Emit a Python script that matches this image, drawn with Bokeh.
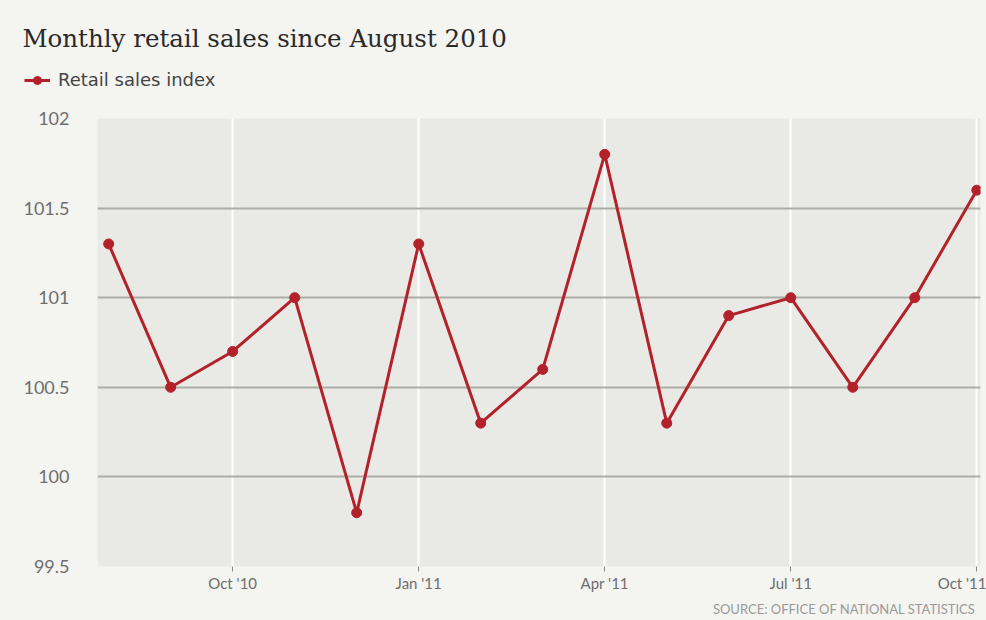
from bokeh.plotting import figure
from bokeh.layouts import column
from bokeh.models import Legend, LegendItem, FixedTicker, Range1d, Title, Label
from bokeh.embed import file_html
from bokeh.resources import INLINE

months = ["Aug '10", "Sep '10", "Oct '10", "Nov '10", "Dec '10", "Jan '11", "Feb '11",
          "Mar '11", "Apr '11", "May '11", "Jun '11", "Jul '11", "Aug '11", "Sep '11", "Oct '11"]
values = [101.3, 100.5, 100.7, 101.0, 99.8, 101.3, 100.3, 100.6, 101.8, 100.3, 100.9,
          101.0, 100.5, 101.0, 101.6]
tick_labels = ["Oct '10", "Jan '11", "Apr '11", "Jul '11", "Oct '11"]
y_ticks = [99.5, 100, 100.5, 101, 101.5, 102]
y_labels = ["99.5", "100", "100.5", "101", "101.5", "102"]

x = list(range(len(months)))
tick_pos = [months.index(t) for t in tick_labels]

RED = "#b3212b"
GRAY_TXT = "#6e6e6e"
BG = "#f4f4f1"
HEADER_H = 98

# ---------- header (title + legend) ----------
h = figure(width=986, height=HEADER_H, x_range=Range1d(0, 1), y_range=Range1d(0, 1),
           x_axis_type=None, y_axis_type=None, output_backend="svg", toolbar_location=None,
           min_border=0)
h.background_fill_color = BG
h.border_fill_color = BG
h.outline_line_color = None
h.xgrid.visible = False
h.ygrid.visible = False
# legend renderers: the same series (falls outside this header's ranges)
hl = h.line(x, values, line_color=RED, line_width=3)
hd = h.scatter(x, values, size=10, fill_color=RED, line_color=RED)

legend = Legend(items=[LegendItem(label="Retail sales index", renderers=[hl, hd])],
                location=(24, HEADER_H - 80 - 10))
legend.background_fill_alpha = 0
legend.border_line_alpha = 0
legend.label_text_font = "DejaVu Sans"
legend.label_text_font_size = "18px"
legend.label_text_color = "#444444"
legend.glyph_width = 26
legend.label_standoff = 8
legend.padding = 0
legend.margin = 0
h.add_layout(legend, "center")

title = Label(x=22, y=HEADER_H - 38, x_units="screen", y_units="screen",
              text="Monthly retail sales since August 2010",
              text_font="DejaVu Serif", text_font_size="24.5px", text_color="#2a2a2a",
              text_baseline="middle")
h.add_layout(title)

# ---------- main chart ----------
p = figure(width=986, height=620 - HEADER_H, x_range=Range1d(-0.18, 14.06), y_range=Range1d(99.5, 102),
           output_backend="svg", toolbar_location=None,
           min_border_left=97, min_border_right=6, min_border_top=118 - HEADER_H, min_border_bottom=52)
p.background_fill_color = "#e9e9e5"
p.border_fill_color = BG
p.outline_line_color = None

p.xaxis.ticker = FixedTicker(ticks=tick_pos)
p.xaxis.major_label_overrides = {pos: lab for pos, lab in zip(tick_pos, tick_labels)}
p.xaxis.axis_line_color = None
p.xaxis.major_tick_line_color = "#8a8a8a"
p.xaxis.major_tick_in = 0
p.xaxis.major_tick_out = 5
p.xaxis.minor_tick_line_color = None
p.xaxis.major_label_standoff = 2
p.xaxis.major_label_text_font = "Lato"
p.xaxis.major_label_text_font_size = "15px"
p.xaxis.major_label_text_color = GRAY_TXT

p.yaxis.ticker = FixedTicker(ticks=y_ticks)
p.yaxis.major_label_overrides = {t: l for t, l in zip(y_ticks, y_labels)}
p.yaxis.axis_line_color = None
p.yaxis.major_tick_line_color = None
p.yaxis.minor_tick_line_color = None
p.yaxis.major_label_standoff = 22
p.yaxis.major_label_text_font = "Lato"
p.yaxis.major_label_text_font_size = "18px"
p.yaxis.major_label_text_color = GRAY_TXT
p.yaxis.major_label_text_baseline = "alphabetic"

p.xgrid.grid_line_color = "#ffffff"
p.xgrid.grid_line_width = 2
p.ygrid.grid_line_color = "#adada8"
p.ygrid.grid_line_width = 2

p.line(x, values, line_color=RED, line_width=3)
p.scatter(x, values, size=10, fill_color=RED, line_color=RED)

source = Title(text="SOURCE: OFFICE OF NATIONAL STATISTICS", align="right", offset=5,
               text_font="Lato", text_font_size="13px", text_color="#9a9a9a",
               text_font_style="normal", standoff=8)
p.add_layout(source, "below")

bg_style = {"background-color": BG}
layout = column(column(h, styles=bg_style), column(p, styles=bg_style), spacing=0, styles=bg_style)
open("out.html", "w").write(file_html(layout, INLINE))
